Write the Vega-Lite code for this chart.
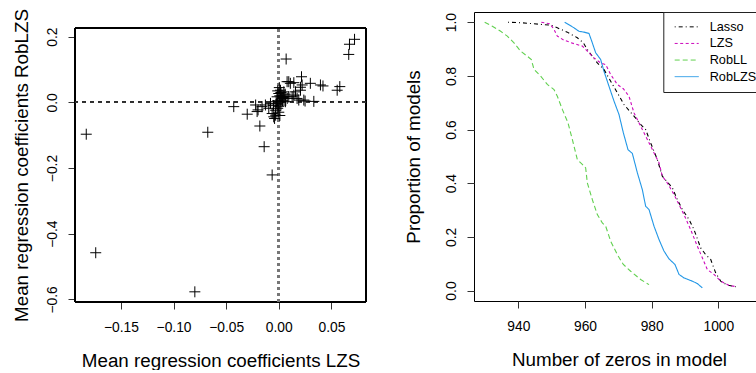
{
  "$schema": "https://vega.github.io/schema/vega-lite/v6.json",
  "padding": {"left": 12, "top": 8, "right": 0, "bottom": 0},
  "bounds": "flush",
  "spacing": 108,
  "datasets": {
    "pts": [
      {"lzs": -0.183, "rob": -0.097}, {"lzs": -0.174, "rob": -0.458}, {"lzs": -0.0798, "rob": -0.577},
      {"lzs": -0.0675, "rob": -0.091}, {"lzs": -0.0428, "rob": -0.013}, {"lzs": -0.030, "rob": -0.036},
      {"lzs": -0.018, "rob": -0.072}, {"lzs": -0.0139, "rob": -0.135}, {"lzs": -0.0063, "rob": -0.221},
      {"lzs": -0.0063, "rob": -0.034}, {"lzs": -0.0048, "rob": -0.044}, {"lzs": -0.003, "rob": -0.024},
      {"lzs": -0.004, "rob": -0.049}, {"lzs": -0.003, "rob": -0.039}, {"lzs": -0.0016, "rob": 0.017},
      {"lzs": 0.0, "rob": 0.027}, {"lzs": 0.0016, "rob": 0.037}, {"lzs": 0.003, "rob": 0.012},
      {"lzs": 0.0048, "rob": 0.032}, {"lzs": 0.0063, "rob": 0.002}, {"lzs": -0.002, "rob": -0.005},
      {"lzs": -0.001, "rob": 0.005}, {"lzs": 0.001, "rob": -0.002}, {"lzs": 0.002, "rob": 0.008},
      {"lzs": 0.0, "rob": -0.012}, {"lzs": -0.001, "rob": -0.018}, {"lzs": 0.001, "rob": 0.02},
      {"lzs": 0.003, "rob": 0.022}, {"lzs": 0.004, "rob": 0.015}, {"lzs": 0.002, "rob": -0.008},
      {"lzs": -0.0025, "rob": 0.002}, {"lzs": 0.0005, "rob": 0.045}, {"lzs": 0.0035, "rob": 0.005},
      {"lzs": 0.005, "rob": 0.018}, {"lzs": -0.005, "rob": -0.01}, {"lzs": 0.006, "rob": 0.025},
      {"lzs": 0.008, "rob": 0.012}, {"lzs": 0.0095, "rob": 0.017}, {"lzs": -0.0095, "rob": -0.018},
      {"lzs": -0.0079, "rob": -0.003}, {"lzs": -0.0127, "rob": -0.008}, {"lzs": -0.0159, "rob": -0.013},
      {"lzs": -0.0197, "rob": -0.023}, {"lzs": -0.022, "rob": -0.008}, {"lzs": -0.0206, "rob": -0.028},
      {"lzs": 0.0, "rob": -0.03}, {"lzs": 0.001, "rob": -0.04}, {"lzs": -0.001, "rob": 0.035},
      {"lzs": 0.002, "rob": 0.03}, {"lzs": 0.011, "rob": 0.058}, {"lzs": 0.0143, "rob": 0.022},
      {"lzs": 0.0159, "rob": 0.032}, {"lzs": 0.0174, "rob": 0.012}, {"lzs": 0.019, "rob": 0.007},
      {"lzs": 0.0206, "rob": 0.037}, {"lzs": 0.0216, "rob": 0.078}, {"lzs": 0.0222, "rob": 0.053},
      {"lzs": 0.0238, "rob": 0.007}, {"lzs": 0.030, "rob": 0.058}, {"lzs": 0.0333, "rob": 0.003},
      {"lzs": 0.0396, "rob": 0.053}, {"lzs": 0.042, "rob": 0.05}, {"lzs": 0.0555, "rob": 0.037},
      {"lzs": 0.058, "rob": 0.048}, {"lzs": 0.0079, "rob": 0.063}, {"lzs": 0.007, "rob": 0.132},
      {"lzs": 0.0127, "rob": 0.017}, {"lzs": 0.025, "rob": 0.004}, {"lzs": 0.0665, "rob": 0.146},
      {"lzs": 0.0672, "rob": 0.177}, {"lzs": 0.072, "rob": 0.192}, {"lzs": 0.0095, "rob": 0.063},
      {"lzs": 0.0143, "rob": 0.06}, {"lzs": 0.0206, "rob": 0.046}
    ],
    "curves": [
      {"method": "RobLL", "zeros": 929.9, "prop": 1.0}, {"method": "RobLL", "zeros": 932.2, "prop": 0.985},
      {"method": "RobLL", "zeros": 934.7, "prop": 0.966}, {"method": "RobLL", "zeros": 936.7, "prop": 0.948},
      {"method": "RobLL", "zeros": 938.7, "prop": 0.923}, {"method": "RobLL", "zeros": 940.7, "prop": 0.892},
      {"method": "RobLL", "zeros": 942.7, "prop": 0.873}, {"method": "RobLL", "zeros": 943.9, "prop": 0.861},
      {"method": "RobLL", "zeros": 944.7, "prop": 0.824}, {"method": "RobLL", "zeros": 946.7, "prop": 0.799},
      {"method": "RobLL", "zeros": 948.7, "prop": 0.768}, {"method": "RobLL", "zeros": 950.7, "prop": 0.749},
      {"method": "RobLL", "zeros": 951.7, "prop": 0.724}, {"method": "RobLL", "zeros": 953.2, "prop": 0.675},
      {"method": "RobLL", "zeros": 954.9, "prop": 0.625}, {"method": "RobLL", "zeros": 956.2, "prop": 0.563},
      {"method": "RobLL", "zeros": 957.7, "prop": 0.488}, {"method": "RobLL", "zeros": 959.2, "prop": 0.470},
      {"method": "RobLL", "zeros": 960.2, "prop": 0.457}, {"method": "RobLL", "zeros": 960.7, "prop": 0.401},
      {"method": "RobLL", "zeros": 962.2, "prop": 0.339}, {"method": "RobLL", "zeros": 963.7, "prop": 0.283},
      {"method": "RobLL", "zeros": 965.2, "prop": 0.252}, {"method": "RobLL", "zeros": 966.2, "prop": 0.240},
      {"method": "RobLL", "zeros": 967.7, "prop": 0.184}, {"method": "RobLL", "zeros": 969.7, "prop": 0.134},
      {"method": "RobLL", "zeros": 971.5, "prop": 0.097}, {"method": "RobLL", "zeros": 973.7, "prop": 0.072},
      {"method": "RobLL", "zeros": 976.7, "prop": 0.041}, {"method": "RobLL", "zeros": 979.2, "prop": 0.022},
      {"method": "RobLZS", "zeros": 953.9, "prop": 1.0}, {"method": "RobLZS", "zeros": 956.7, "prop": 0.979},
      {"method": "RobLZS", "zeros": 958.2, "prop": 0.966}, {"method": "RobLZS", "zeros": 959.7, "prop": 0.963},
      {"method": "RobLZS", "zeros": 961.2, "prop": 0.958}, {"method": "RobLZS", "zeros": 962.2, "prop": 0.923},
      {"method": "RobLZS", "zeros": 963.2, "prop": 0.886}, {"method": "RobLZS", "zeros": 964.7, "prop": 0.861},
      {"method": "RobLZS", "zeros": 965.7, "prop": 0.817}, {"method": "RobLZS", "zeros": 967.2, "prop": 0.761},
      {"method": "RobLZS", "zeros": 968.7, "prop": 0.706}, {"method": "RobLZS", "zeros": 970.2, "prop": 0.656},
      {"method": "RobLZS", "zeros": 971.5, "prop": 0.588}, {"method": "RobLZS", "zeros": 972.9, "prop": 0.525},
      {"method": "RobLZS", "zeros": 974.2, "prop": 0.511}, {"method": "RobLZS", "zeros": 975.7, "prop": 0.439},
      {"method": "RobLZS", "zeros": 977.2, "prop": 0.376}, {"method": "RobLZS", "zeros": 978.2, "prop": 0.314},
      {"method": "RobLZS", "zeros": 979.2, "prop": 0.302}, {"method": "RobLZS", "zeros": 980.7, "prop": 0.240},
      {"method": "RobLZS", "zeros": 982.2, "prop": 0.190}, {"method": "RobLZS", "zeros": 983.7, "prop": 0.147},
      {"method": "RobLZS", "zeros": 985.2, "prop": 0.118}, {"method": "RobLZS", "zeros": 987.0, "prop": 0.097},
      {"method": "RobLZS", "zeros": 988.2, "prop": 0.060}, {"method": "RobLZS", "zeros": 989.7, "prop": 0.047},
      {"method": "RobLZS", "zeros": 992.2, "prop": 0.035}, {"method": "RobLZS", "zeros": 993.7, "prop": 0.026},
      {"method": "RobLZS", "zeros": 995.2, "prop": 0.010},
      {"method": "Lasso", "zeros": 936.9, "prop": 1.0}, {"method": "Lasso", "zeros": 940.7, "prop": 0.998},
      {"method": "Lasso", "zeros": 944.7, "prop": 0.994}, {"method": "Lasso", "zeros": 947.7, "prop": 0.991},
      {"method": "Lasso", "zeros": 949.7, "prop": 0.989}, {"method": "Lasso", "zeros": 951.7, "prop": 0.979},
      {"method": "Lasso", "zeros": 954.7, "prop": 0.963}, {"method": "Lasso", "zeros": 957.7, "prop": 0.942},
      {"method": "Lasso", "zeros": 959.5, "prop": 0.923}, {"method": "Lasso", "zeros": 960.7, "prop": 0.898},
      {"method": "Lasso", "zeros": 963.7, "prop": 0.848}, {"method": "Lasso", "zeros": 965.7, "prop": 0.824},
      {"method": "Lasso", "zeros": 967.7, "prop": 0.780}, {"method": "Lasso", "zeros": 969.7, "prop": 0.737},
      {"method": "Lasso", "zeros": 971.7, "prop": 0.693}, {"method": "Lasso", "zeros": 974.7, "prop": 0.650},
      {"method": "Lasso", "zeros": 976.7, "prop": 0.619}, {"method": "Lasso", "zeros": 978.2, "prop": 0.600},
      {"method": "Lasso", "zeros": 979.7, "prop": 0.550}, {"method": "Lasso", "zeros": 981.7, "prop": 0.488},
      {"method": "Lasso", "zeros": 983.2, "prop": 0.426}, {"method": "Lasso", "zeros": 984.7, "prop": 0.404},
      {"method": "Lasso", "zeros": 986.2, "prop": 0.383}, {"method": "Lasso", "zeros": 987.7, "prop": 0.339},
      {"method": "Lasso", "zeros": 989.2, "prop": 0.302}, {"method": "Lasso", "zeros": 991.2, "prop": 0.265},
      {"method": "Lasso", "zeros": 992.7, "prop": 0.227}, {"method": "Lasso", "zeros": 994.7, "prop": 0.159},
      {"method": "Lasso", "zeros": 996.2, "prop": 0.134}, {"method": "Lasso", "zeros": 997.7, "prop": 0.116},
      {"method": "Lasso", "zeros": 999.2, "prop": 0.066}, {"method": "Lasso", "zeros": 1000.7, "prop": 0.035},
      {"method": "Lasso", "zeros": 1002.7, "prop": 0.020}, {"method": "Lasso", "zeros": 1005.2, "prop": 0.014},
      {"method": "LZS", "zeros": 946.9, "prop": 1.0}, {"method": "LZS", "zeros": 949.5, "prop": 0.994},
      {"method": "LZS", "zeros": 950.7, "prop": 0.973}, {"method": "LZS", "zeros": 951.7, "prop": 0.948},
      {"method": "LZS", "zeros": 953.7, "prop": 0.933}, {"method": "LZS", "zeros": 956.7, "prop": 0.920},
      {"method": "LZS", "zeros": 959.2, "prop": 0.911}, {"method": "LZS", "zeros": 960.7, "prop": 0.892},
      {"method": "LZS", "zeros": 962.7, "prop": 0.867}, {"method": "LZS", "zeros": 964.7, "prop": 0.848},
      {"method": "LZS", "zeros": 966.2, "prop": 0.842}, {"method": "LZS", "zeros": 967.7, "prop": 0.805},
      {"method": "LZS", "zeros": 969.7, "prop": 0.768}, {"method": "LZS", "zeros": 971.5, "prop": 0.752},
      {"method": "LZS", "zeros": 973.2, "prop": 0.724}, {"method": "LZS", "zeros": 974.7, "prop": 0.662},
      {"method": "LZS", "zeros": 976.7, "prop": 0.612}, {"method": "LZS", "zeros": 978.7, "prop": 0.563},
      {"method": "LZS", "zeros": 980.7, "prop": 0.513}, {"method": "LZS", "zeros": 982.2, "prop": 0.476},
      {"method": "LZS", "zeros": 983.2, "prop": 0.426}, {"method": "LZS", "zeros": 984.7, "prop": 0.401},
      {"method": "LZS", "zeros": 986.7, "prop": 0.358}, {"method": "LZS", "zeros": 988.2, "prop": 0.320},
      {"method": "LZS", "zeros": 989.7, "prop": 0.283}, {"method": "LZS", "zeros": 991.7, "prop": 0.227},
      {"method": "LZS", "zeros": 993.7, "prop": 0.165}, {"method": "LZS", "zeros": 995.2, "prop": 0.122},
      {"method": "LZS", "zeros": 996.7, "prop": 0.078}, {"method": "LZS", "zeros": 998.7, "prop": 0.060},
      {"method": "LZS", "zeros": 1000.7, "prop": 0.035}, {"method": "LZS", "zeros": 1003.2, "prop": 0.019},
      {"method": "LZS", "zeros": 1005.5, "prop": 0.014}
    ]
  },
  "hconcat": [
    {
      "width": 291,
      "height": 290,
      "view": {"stroke": null},
      "data": {"name": "pts"},
      "layer": [
        {
          "mark": {"type": "rect", "fill": null, "stroke": "#000", "strokeWidth": 1},
          "encoding": {
            "x": {"datum": -0.1937, "type": "quantitative"},
            "x2": {"datum": 0.0829},
            "y": {"datum": -0.608, "type": "quantitative"},
            "y2": {"datum": 0.2265}
          }
        },
        {
          "mark": {"type": "rule", "stroke": "#333", "strokeWidth": 0.8, "strokeDash": [4, 4]},
          "encoding": {"y": {"datum": 0, "type": "quantitative"}}
        },
        {
          "mark": {"type": "rule", "stroke": "#777", "strokeWidth": 2, "strokeDash": [3, 3]},
          "encoding": {
            "x": {"datum": 0, "type": "quantitative"},
            "y": {"datum": -0.608, "type": "quantitative"},
            "y2": {"datum": 0.2265}
          }
        },
        {
          "mark": {"type": "point", "shape": "M-1,0H1M0,-1V1", "size": 121, "filled": false, "stroke": "#000", "strokeWidth": 1, "opacity": 1},
          "encoding": {
            "x": {
              "field": "lzs", "type": "quantitative",
              "scale": {"domain": [-0.1937, 0.0829], "nice": false, "zero": false},
              "axis": {"values": [-0.15, -0.1, -0.05, 0, 0.05], "format": ".2f", "title": "Mean regression coefficients LZS"}
            },
            "y": {
              "field": "rob", "type": "quantitative",
              "scale": {"domain": [-0.608, 0.2265], "range": [290, 16], "nice": false, "zero": false},
              "axis": {"values": [-0.6, -0.4, -0.2, 0, 0.2], "format": ".1f", "title": "Mean regression coefficients RobLZS", "titleX": -54}
            }
          }
        }
      ]
    },
    {
      "width": 290,
      "height": 289,
      "data": {"name": "curves"},
      "mark": {"type": "line", "strokeWidth": 1.1},
      "encoding": {
        "x": {
          "field": "zeros", "type": "quantitative",
          "scale": {"domain": [926.7, 1013.7], "nice": false, "zero": false},
          "axis": {"values": [940, 960, 980, 1000], "format": "d", "title": "Number of zeros in model"}
        },
        "y": {
          "field": "prop", "type": "quantitative",
          "scale": {"domain": [-0.039, 1.038], "nice": false, "zero": false},
          "axis": {"values": [0, 0.2, 0.4, 0.6, 0.8, 1.0], "format": ".1f", "title": "Proportion of models", "titleX": -61}
        },
        "color": {
          "field": "method", "type": "nominal",
          "scale": {"domain": ["Lasso", "LZS", "RobLL", "RobLZS"], "range": ["#000000", "#CD0BBC", "#61D04F", "#2297E6"]},
          "legend": {"orient": "none", "legendX": 588.3, "legendY": 0, "title": null}
        },
        "strokeDash": {
          "field": "method", "type": "nominal",
          "scale": {"domain": ["Lasso", "LZS", "RobLL", "RobLZS"], "range": [[1, 3, 4, 3], [3, 2.5], [5, 3], [1, 0]]},
          "legend": {"orient": "none", "legendX": 588.3, "legendY": 0, "title": null}
        }
      }
    }
  ],
  "config": {
    "view": {"stroke": "#000", "strokeWidth": 1},
    "axis": {
      "domain": false, "grid": false, "ticks": true, "tickSize": 7, "tickColor": "#333", "tickWidth": 1,
      "labelFont": "Liberation Sans", "labelFontSize": 13.8, "labelColor": "#000",
      "titleFont": "Liberation Sans", "titleFontSize": 18.8, "titleFontWeight": "normal", "titleColor": "#000"
    },
    "axisX": {"labelPadding": 11, "titleY": 58, "titleBaseline": "middle"},
    "axisY": {"labelAngle": -90, "labelPadding": 9, "titleAngle": -90, "titleBaseline": "middle"},
    "legend": {
      "padding": 8.5, "strokeColor": "#222", "fillColor": "#fff", "cornerRadius": 0,
      "symbolType": "M-3.175,0M-1.725,0H10.275", "symbolSize": 16, "symbolStrokeWidth": 1, "symbolFillColor": "transparent",
      "labelFont": "Liberation Sans", "labelFontSize": 12.7, "labelColor": "#000", "labelOffset": 25.2,
      "rowPadding": 2.6, "labelLimit": 200
    }
  }
}
